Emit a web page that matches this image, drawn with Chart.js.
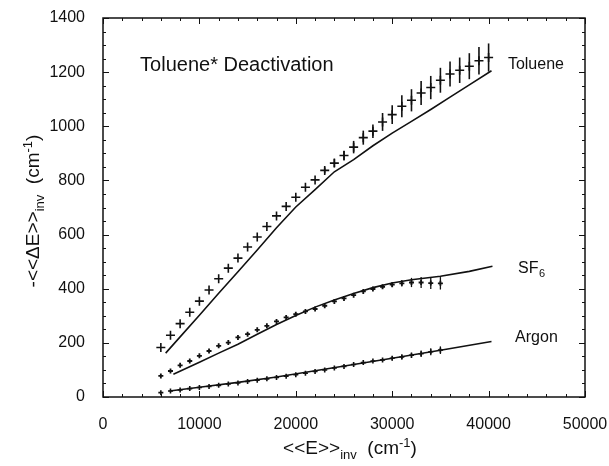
<!DOCTYPE html>
<html><head><meta charset="utf-8">
<script src="https://cdn.jsdelivr.net/npm/chart.js@4/dist/chart.umd.min.js"></script>
<style>html,body{margin:0;padding:0;background:#fff;}canvas{display:block;}</style>
</head><body>
<canvas id="c" width="609" height="466"></canvas>
<script>
// ---- data ----
const xTickValues = [0, 10000, 20000, 30000, 40000, 50000];
const yTickValues = [0, 200, 400, 600, 800, 1000, 1200, 1400];

const tolueneE   = [6000,7000,8000,9000,10000,11000,12000,13000,14000,15000,16000,17000,18000,19000,20000,21000,22000,23000,24000,25000,26000,27000,28000,29000,30000,31000,32000,33000,34000,35000,36000,37000,38000,39000,40000];
const tolueneVal = [183,228,271,313,354,395,437,476,513,554,591,630,669,704,738,775,802,837,864,892,923,958,982,1016,1043,1074,1096,1123,1143,1170,1193,1207,1222,1242,1254];
const tolueneErr = [0,0,0,0,0,0,0,0,0,0,0,0,0,0,0,0,0,11,15,18,23,26,25,33,35,41,41,44,43,46,46,47,48,51,52];
const tolueneFitE   = [6500,8000,10000,12000,14000,16000,18000,20000,22000,24000,26000,28000,30000,32000,34000,36000,38000,40300];
const tolueneFitVal = [162,222,302,383,463,543,625,702,766,832,877,928,975,1018,1062,1108,1153,1205];

const sf6E   = [6000,7000,8000,9000,10000,11000,12000,13000,14000,15000,16000,17000,18000,19000,20000,21000,22000,23000,24000,25000,26000,27000,28000,29000,30000,31000,32000,33000,34000,35000];
const sf6Val = [78,96,117,133,152,170,189,201,220,232,248,263,279,294,306,316,325,337,353,364,376,390,399,407,415,420,423,423,421,420];
const sf6Err = [0,0,0,0,0,0,0,0,0,0,0,0,0,0,0,0,0,0,0,0,0,0,0,6,9,12,17,20,22,23];
const sf6FitE   = [7300,10000,12000,14000,16000,18000,20000,22000,24000,26000,28000,30000,32000,35000,38000,40400];
const sf6FitVal = [84,128,162,195,232,268,301,332,358,382,404,421,433,446,464,483];

const argonE   = [6000,7000,8000,9000,10000,11000,12000,13000,14000,15000,16000,17000,18000,19000,20000,21000,22000,23000,24000,25000,26000,27000,28000,29000,30000,31000,32000,33000,34000,35000];
const argonVal = [16,22,26,31,35,39,43,48,52,57,62,67,72,77,82,88,94,100,107,113,120,127,133,137,143,148,154,160,167,173];
const argonErr = [0,0,0,0,0,0,0,0,0,0,0,0,0,0,0,0,0,0,0,0,0,0,0,5,7,9,10,12,13,14];
const argonFitE   = [6900,10000,14000,18000,22000,26000,30000,35000,40300];
const argonFitVal = [22,36,54,74,97,120,143,173,205];

const titleText = 'Toluene* Deactivation';
const seriesNames = ['Toluene', 'SF', 'Argon'];

// ---- helpers ----
const pts = (xs, ys) => xs.map((v, i) => ({x: v, y: ys[i]}));
const FONT = '"Liberation Sans", Arial, Helvetica, sans-serif';
const INK = '#111';

function drawRich(ctx, segs, cx, baseY, size, small) {
  let w = 0;
  segs.forEach(s => { ctx.font = `${s[1] ? small : size}px ${FONT}`; w += ctx.measureText(s[0]).width; });
  let x = cx - w / 2;
  ctx.textAlign = 'left'; ctx.textBaseline = 'alphabetic';
  segs.forEach(s => {
    ctx.font = `${s[1] ? small : size}px ${FONT}`;
    const dy = s[1] === 1 ? 5 : (s[1] === 2 ? -7 : 0);
    ctx.fillText(s[0], x, baseY + dy);
    x += ctx.measureText(s[0]).width;
  });
}

const errData = {0: tolueneErr, 1: sf6Err, 2: argonErr};

const decor = {
  id: 'decor',
  afterDatasetsDraw(chart) {
    const {ctx, scales: {x, y}} = chart;
    ctx.save();
    ctx.strokeStyle = INK;
    Object.keys(errData).forEach(k => {
      const meta = chart.getDatasetMeta(+k);
      const ds = chart.data.datasets[+k];
      ctx.lineWidth = (+k === 0) ? 1.6 : 1.3;
      meta.data.forEach((el, i) => {
        const e = errData[k][i];
        if (!e) return;
        const v = ds.data[i].y;
        ctx.beginPath();
        ctx.moveTo(el.x, y.getPixelForValue(v + e));
        ctx.lineTo(el.x, y.getPixelForValue(v - e));
        ctx.stroke();
      });
    });
    ctx.restore();
  },
  afterDraw(chart) {
    const {ctx, chartArea: a, scales: {x, y}} = chart;
    ctx.save();
    ctx.strokeStyle = INK; ctx.fillStyle = INK;
    ctx.lineWidth = 1.5;
    ctx.strokeRect(a.left, a.top, a.right - a.left, a.bottom - a.top);
    ctx.lineWidth = 1;
    ctx.beginPath();
    for (let v = x.min; v <= x.max; v += 2000) {
      const p = Math.round(x.getPixelForValue(v)) + 0.5;
      const len = (v % 10000 === 0) ? 6 : 3;
      ctx.moveTo(p, a.bottom); ctx.lineTo(p, a.bottom - len);
      ctx.moveTo(p, a.top); ctx.lineTo(p, a.top + len);
    }
    for (let v = y.min; v <= y.max; v += 50) {
      const p = Math.round(y.getPixelForValue(v)) + 0.5;
      const len = (v % 200 === 0) ? 6 : 3;
      ctx.moveTo(a.left, p); ctx.lineTo(a.left + len, p);
      ctx.moveTo(a.right, p); ctx.lineTo(a.right - len, p);
    }
    ctx.stroke();

    // annotations
    ctx.textBaseline = 'middle'; ctx.textAlign = 'left';
    ctx.font = `20px ${FONT}`;
    ctx.fillText(titleText, x.getPixelForValue(3850), y.getPixelForValue(1225));
    ctx.font = `16px ${FONT}`;
    ctx.fillText(seriesNames[0], x.getPixelForValue(42000), y.getPixelForValue(1228));
    ctx.fillText(seriesNames[2], x.getPixelForValue(42750), y.getPixelForValue(218));
    const sx = x.getPixelForValue(43050), sy = y.getPixelForValue(475);
    ctx.fillText(seriesNames[1], sx, sy);
    const sw = ctx.measureText(seriesNames[1]).width;
    ctx.font = `11px ${FONT}`;
    ctx.fillText('6', sx + sw + 0.5, sy + 6);

    // axis titles
    drawRich(ctx, [['<<E>>', 0], ['inv', 1], ['  (cm', 0], ['-1', 2], [')', 0]],
             350, 454, 19, 13);
    ctx.translate(31, 211);
    ctx.rotate(-Math.PI / 2);
    drawRich(ctx, [['-<<\u0394E>>', 0], ['inv', 1], ['  (cm', 0], ['-1', 2], [')', 0]],
             0, 8, 19, 13);
    ctx.restore();
  }
};

const lineDs = (d) => ({data: d, showLine: true, pointRadius: 0, borderColor: INK, borderWidth: 1.6, fill: false, tension: 0});
const ptDs = (d, r, bw) => ({data: d, showLine: false, pointStyle: 'cross', pointRadius: r, borderColor: INK, backgroundColor: INK, pointBorderWidth: bw});

new Chart(document.getElementById('c'), {
  type: 'scatter',
  data: {
    datasets: [
      ptDs(pts(tolueneE, tolueneVal), 4.5, 1.6),
      ptDs(pts(sf6E, sf6Val), 2.5, 1.8),
      ptDs(pts(argonE, argonVal), 2.5, 1.6),
      lineDs(pts(tolueneFitE, tolueneFitVal)),
      lineDs(pts(sf6FitE, sf6FitVal)),
      lineDs(pts(argonFitE, argonFitVal))
    ]
  },
  options: {
    responsive: false,
    devicePixelRatio: 1,
    animation: false,
    layout: {padding: {left: 0, right: 24, top: 18, bottom: 0}},
    plugins: {legend: {display: false}, tooltip: {enabled: false}},
    scales: {
      x: {
        type: 'linear', min: 0, max: 50000,
        afterBuildTicks: s => { s.ticks = xTickValues.map(v => ({value: v})); },
        afterFit: s => { s.height = 69; s.paddingLeft = 0; s.paddingRight = 0; },
        grid: {display: false, drawTicks: false},
        border: {display: false},
        ticks: {padding: 18, color: INK, font: {family: FONT, size: 16}, maxRotation: 0, autoSkip: false,
                callback: v => String(v)}
      },
      y: {
        type: 'linear', min: 0, max: 1400,
        afterBuildTicks: s => { s.ticks = yTickValues.map(v => ({value: v})); },
        afterFit: s => { s.width = 103; s.paddingTop = 0; s.paddingBottom = 0; },
        grid: {display: false, drawTicks: false},
        border: {display: false},
        ticks: {padding: 18, color: INK, font: {family: FONT, size: 16}, autoSkip: false,
                callback: v => String(v)}
      }
    }
  },
  plugins: [decor]
});
</script>
</body></html>
